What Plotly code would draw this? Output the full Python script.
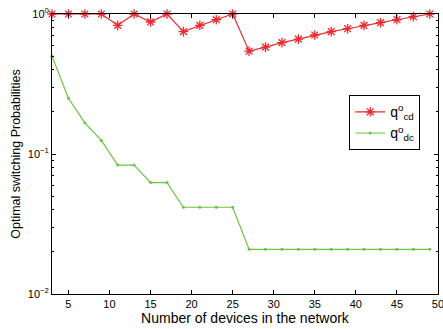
import plotly.graph_objects as go

x_devices = list(range(3, 50, 2))
q_cd = [1.0, 1.0, 1.0, 1.0, 0.83, 1.0, 0.877, 1.0, 0.748, 0.83, 0.91, 1.0,
        0.543, 0.58, 0.624, 0.662, 0.708, 0.748, 0.785, 0.83, 0.867, 0.91, 0.957, 1.0]
q_dc = [0.5, 0.25, 1/6, 1/8, 1/12, 1/12, 1/16, 1/16, 1/24, 1/24, 1/24, 1/24,
        1/48, 1/48, 1/48, 1/48, 1/48, 1/48, 1/48, 1/48, 1/48, 1/48, 1/48, 1/48]
y_tickvals = [1, 0.1, 0.01]
y_ticktext = ["10<sup>0</sup>", "10<sup>\u22121</sup>", "10<sup>\u22122</sup>"]
x_tickvals = [5, 10, 15, 20, 25, 30, 35, 40, 45, 50]

red = "#ee2a2e"
green = "#6cc444"

fig = go.Figure()
fig.add_trace(go.Scatter(
    x=x_devices, y=q_cd, mode="lines+markers",
    name="q<sup>o</sup><sub>cd</sub>",
    line=dict(color=red, width=1.2),
    marker=dict(symbol="asterisk-open", size=8, color=red, line=dict(color=red, width=1.3)),
    cliponaxis=False,
))
fig.add_trace(go.Scatter(
    x=x_devices, y=q_dc, mode="lines+markers",
    name="q<sup>o</sup><sub>dc</sub>",
    line=dict(color=green, width=1.2),
    marker=dict(symbol="circle", size=3, color=green),
    cliponaxis=False,
))

axis_common = dict(
    showline=True, linecolor="black", linewidth=1, mirror="ticks",
    ticks="inside", ticklen=4, tickcolor="black", showgrid=False, zeroline=False,
    automargin=False, ticklabeloverflow="allow",
    tickfont=dict(family="Liberation Sans, Arial", size=11, color="black"),
)

fig.update_layout(
    width=443, height=329,
    margin=dict(l=52, r=5, t=14, b=35),
    paper_bgcolor="white", plot_bgcolor="white",
    font=dict(family="Liberation Sans, Arial", color="black", size=12),
    showlegend=True,
    legend=dict(
        x=0.77, y=0.71, xanchor="left", yanchor="top",
        bordercolor="black", borderwidth=1, bgcolor="white",
        font=dict(size=14), tracegroupgap=2,
    ),
    xaxis=dict(
        axis_common, range=[3, 50.001], tickvals=x_tickvals,
        title=dict(text="Number of devices in the network", font=dict(size=14), standoff=0),
    ),
    yaxis=dict(
        axis_common, type="log", range=[-2, 0],
        tickvals=y_tickvals, ticktext=y_ticktext,
        minor=dict(ticks="inside", ticklen=2, tickcolor="black", dtick="D1", showgrid=False),
        title=dict(text="Optimal switching Probabilities", font=dict(size=12.5), standoff=4),
    ),
)

fig.write_html(
    "out.html",
    config={"displayModeBar": False},
    post_script="document.body.style.margin='0px';document.body.style.overflow='hidden';",
)
